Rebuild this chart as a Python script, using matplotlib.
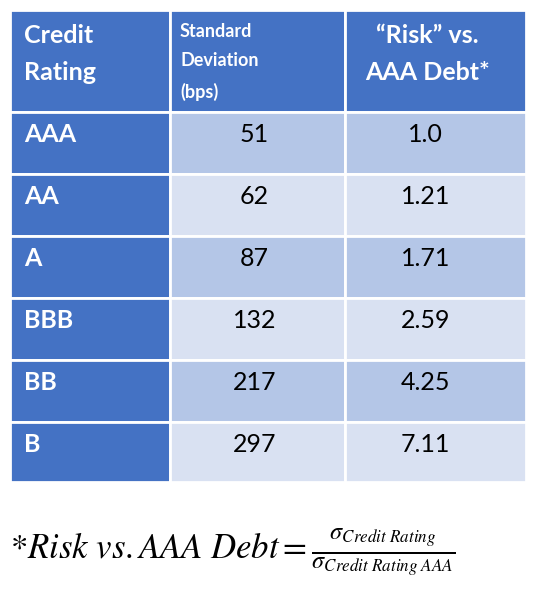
import matplotlib.pyplot as plt
from matplotlib.patches import Rectangle

plt.rcParams['font.family'] = ['Lato', 'DejaVu Sans']
plt.rcParams['mathtext.fontset'] = 'stix'

headers = ["Credit\nRating", "Standard\nDeviation\n(bps)", "\u201cRisk\u201d vs.\nAAA Debt*"]
ratings = ["AAA", "AA", "A", "BBB", "BB", "B"]
std_dev = ["51", "62", "87", "132", "217", "297"]
risk = ["1.0", "1.21", "1.71", "2.59", "4.25", "7.11"]

col_edges = [10, 170, 345, 526]
header_h = 102
row_h = 62
top = 10

blue = "#4472C4"
light = ["#B4C6E7", "#D9E1F2"]

fig = plt.figure(figsize=(5.44, 6.06), dpi=100)
ax = fig.add_axes([0, 0, 1, 1])
ax.set_xlim(0, 544)
ax.set_ylim(606, 0)
ax.axis('off')

def cell(c, y0, h, color):
    x0 = col_edges[c]
    w = col_edges[c + 1] - x0
    ax.add_patch(Rectangle((x0, y0), w, h, facecolor=color, edgecolor='white', lw=2))
    return x0, w

# header
for c, text in enumerate(headers):
    x0, w = cell(c, top, header_h, blue)
    if c == 0:
        ax.text(x0 + 14, top + 44, text, color='white', fontsize=18,
                fontweight='bold', va='center', ha='left', linespacing=1.7)
    elif c == 1:
        ax.text(x0 + 10, top + 52, text, color='white', fontsize=13,
                fontweight='bold', va='center', ha='left', linespacing=1.9)
    else:
        ax.text(x0 + w / 2 - 8, top + 44, text, color='white', fontsize=18,
                fontweight='bold', va='center', ha='center', linespacing=1.7)

# body
for r in range(len(ratings)):
    y0 = top + header_h + r * row_h
    h = row_h if r < len(ratings) - 1 else row_h - 2
    x0, w = cell(0, y0, h, blue)
    ax.text(x0 + 14, y0 + 22, ratings[r], color='white', fontsize=18,
            fontweight='bold', va='center', ha='left')
    for c, vals in ((1, std_dev), (2, risk)):
        x0, w = cell(c, y0, h, light[r % 2])
        ax.text(x0 + w / 2 - (10 if c == 2 else 3), y0 + 22, vals[r], color='black',
                fontsize=18, va='center', ha='center')

ax.text(10, 552, r'$*Risk\ vs.AAA\ Debt = \frac{\sigma_{Credit\ Rating}}{\sigma_{Credit\ Rating\ AAA}}$',
        fontsize=25, va='center', ha='left')

fig.savefig("out.png", dpi=100)
